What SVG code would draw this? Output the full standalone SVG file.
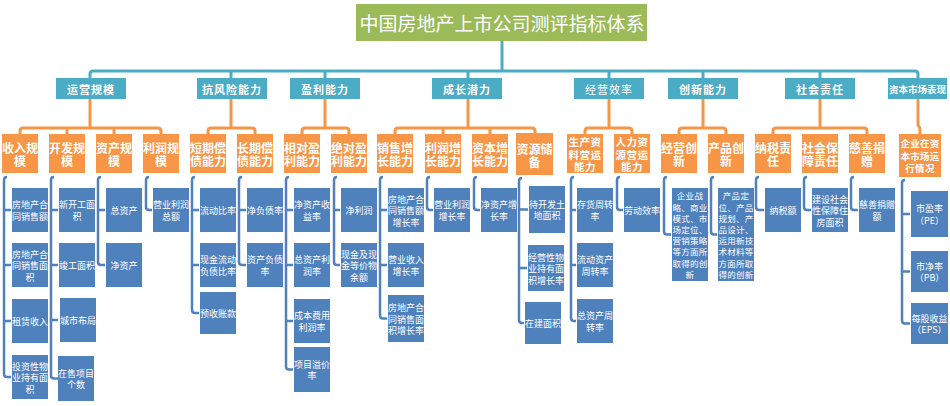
<svg xmlns="http://www.w3.org/2000/svg" width="950" height="406" viewBox="0 0 950 406">
<style>
text{font-family:"Noto Sans CJK SC","Noto Sans",sans-serif;fill:#fff;text-anchor:middle;dominant-baseline:central}
.g{fill:#9BBB59}
.l1{fill:#4BACC6}
.l2{fill:#F79646}
.lf{fill:#4F81BD}
.tt{font-size:19px}
.t1{font-size:11px;font-weight:bold;letter-spacing:1px}
.t2{font-size:12px;font-weight:bold}
.t2s{font-size:10.5px;font-weight:bold;letter-spacing:0.5px}
.t3{font-size:9px}
.t3s{font-size:8.5px;letter-spacing:0.3px}
.cb{fill:none;stroke:#4BACC6;stroke-width:3}
.co{fill:none;stroke:#F79646;stroke-width:3}
.cl{fill:none;stroke:#4F81BD;stroke-width:2.5}
</style>
<rect width="950" height="406" fill="#fff"/>
<g id="connectors">
<path class="cb" d="M502,41V71M90,78V74Q90,71 93,71H915Q918,71 918,74V78M231,71V78M325,71V78M468,71V78M609,71V78M703,71V78M820,71V78"/>
<path class="co" d="M90,99V128M20,134V131Q20,128 23,128H158Q161,128 161,131V134M67,128V134M114,128V134"/>
<path class="co" d="M231,99V128M208,134V131Q208,128 211,128H252Q255,128 255,131V134"/>
<path class="co" d="M325,99V128M302,134V131Q302,128 305,128H346Q349,128 349,131V134"/>
<path class="co" d="M468,99V128M395,134V131Q395,128 398,128H532Q535,128 535,131V133M443,128V134M490,128V134"/>
<path class="co" d="M609,99V128M585,134V131Q585,128 588,128H629Q632,128 632,131V134"/>
<path class="co" d="M703,99V128M679,134V131Q679,128 682,128H723Q726,128 726,131V134"/>
<path class="co" d="M820,99V128M773,134V131Q773,128 776,128H864Q867,128 867,131V134"/>
<path class="co" d="M918,99V125Q920,127 920,130V134"/>
<path class="cl" d="M7,177Q4,177 4,180V374Q4,377 7,377H11M4,210H11M4,265H11M4,321H11"/>
<path class="cl" d="M54,177Q51,177 51,180V375.5Q51,378.5 54,378.5H58M51,210H58M51,265H58M51,320H58"/>
<path class="cl" d="M101,177Q98,177 98,180V262Q98,265 101,265H105M98,210H105"/>
<path class="cl" d="M149,177Q146,177 146,180V207Q146,210 149,210H152"/>
<path class="cl" d="M195,177Q192,177 192,180V310Q192,313 195,313H199M192,210H199M192,265H199"/>
<path class="cl" d="M242,177Q239,177 239,180V262Q239,265 242,265H246M239,210H246"/>
<path class="cl" d="M289,177Q286,177 286,180V366.5Q286,369.5 289,369.5H293M286,210H293M286,265H293M286,321H293"/>
<path class="cl" d="M337,177Q334,177 334,180V262Q334,265 337,265H340M334,210H340"/>
<path class="cl" d="M383,177Q380,177 380,180V315.5Q380,318.5 383,318.5H387M380,210H387M380,265H387"/>
<path class="cl" d="M430,177Q427,177 427,180V207Q427,210 430,210H433"/>
<path class="cl" d="M477,177Q474,177 474,180V207Q474,210 477,210H480"/>
<path class="cl" d="M522,178Q519,178 519,181V320Q519,323 522,323H524M519,209.5H528M519,268H527"/>
<path class="cl" d="M574,177Q571,177 571,180V318Q571,321 574,321H576M571,210H576M571,265H576"/>
<path class="cl" d="M620,177Q617,177 617,180V207Q617,210 620,210H623"/>
<path class="cl" d="M667,177Q664,177 664,180V231.5Q664,234.5 667,234.5H671"/>
<path class="cl" d="M714,177Q711,177 711,180V231.5Q711,234.5 714,234.5H717"/>
<path class="cl" d="M759,177Q756,177 756,180V207Q756,210 759,210H764"/>
<path class="cl" d="M807,177Q804,177 804,180V207Q804,210 807,210H811"/>
<path class="cl" d="M854,177Q851,177 851,180V207Q851,210 854,210H858"/>
<path class="cl" d="M905,180Q902,180 902,183V320.5Q902,323.5 905,323.5H910M902,214H910M902,271.5H910"/>
</g>
<g id="title"><rect class="g" x="356" y="4" width="291" height="37"/><text class="tt" x="502" y="22.5">中国房地产上市公司测评指标体系</text></g>
<g id="l1-yyg"><rect class="l1" x="56" y="78" width="70" height="21"/><text class="t1" x="91" y="88.5">运营规模</text></g>
<g id="l1-kfx"><rect class="l1" x="197" y="78" width="70" height="21"/><text class="t1" x="232" y="88.5">抗风险能力</text></g>
<g id="l1-ylnl"><rect class="l1" x="290" y="78" width="70" height="21"/><text class="t1" x="325" y="88.5">盈利能力</text></g>
<g id="l1-czql"><rect class="l1" x="432" y="78" width="70" height="21"/><text class="t1" x="467" y="88.5">成长潜力</text></g>
<g id="l1-jyxl"><rect class="l1" x="574" y="78" width="70" height="21"/><text class="t1" x="609" y="88.5" style="font-weight:normal">经营效率</text></g>
<g id="l1-cxnl"><rect class="l1" x="668" y="78" width="70" height="21"/><text class="t1" x="703" y="88.5">创新能力</text></g>
<g id="l1-shzr"><rect class="l1" x="785" y="78" width="70" height="21"/><text class="t1" x="820" y="88.5">社会责任</text></g>
<g id="l1-zbsc"><rect class="l1" x="888" y="78" width="59" height="21"/><text class="t1" x="917.5" y="88.5" style="font-size:9.5px;letter-spacing:0">资本市场表现</text></g>

<g id="l2-srgm"><rect class="l2" x="2" y="134" width="36" height="39"/><text class="t2"><tspan x="20" y="147">收入规</tspan><tspan x="20" y="160">模</tspan></text></g>
<g id="l2-kfgm"><rect class="l2" x="49" y="134" width="36" height="39"/><text class="t2"><tspan x="67" y="147">开发规</tspan><tspan x="67" y="160">模</tspan></text></g>
<g id="l2-zcgm"><rect class="l2" x="96" y="134" width="36" height="39"/><text class="t2"><tspan x="114" y="147">资产规</tspan><tspan x="114" y="160">模</tspan></text></g>
<g id="l2-lrgm"><rect class="l2" x="143" y="134" width="36" height="39"/><text class="t2"><tspan x="161" y="147">利润规</tspan><tspan x="161" y="160">模</tspan></text></g>
<g id="l2-dqcz"><rect class="l2" x="190" y="134" width="36" height="39"/><text class="t2"><tspan x="208" y="147">短期偿</tspan><tspan x="208" y="160">债能力</tspan></text></g>
<g id="l2-cqcz"><rect class="l2" x="237" y="134" width="36" height="39"/><text class="t2"><tspan x="255" y="147">长期偿</tspan><tspan x="255" y="160">债能力</tspan></text></g>
<g id="l2-xdyl"><rect class="l2" x="284" y="134" width="36" height="39"/><text class="t2"><tspan x="302" y="147">相对盈</tspan><tspan x="302" y="160">利能力</tspan></text></g>
<g id="l2-jdyl"><rect class="l2" x="331" y="134" width="36" height="39"/><text class="t2"><tspan x="349" y="147">绝对盈</tspan><tspan x="349" y="160">利能力</tspan></text></g>
<g id="l2-xszz"><rect class="l2" x="377" y="134" width="36" height="39"/><text class="t2"><tspan x="395" y="147">销售增</tspan><tspan x="395" y="160">长能力</tspan></text></g>
<g id="l2-lrzz"><rect class="l2" x="425" y="134" width="36" height="39"/><text class="t2"><tspan x="443" y="147">利润增</tspan><tspan x="443" y="160">长能力</tspan></text></g>
<g id="l2-zbzz"><rect class="l2" x="472" y="134" width="36" height="39"/><text class="t2"><tspan x="490" y="147">资本增</tspan><tspan x="490" y="160">长能力</tspan></text></g>
<g id="l2-zycb"><rect class="l2" x="516" y="133" width="37" height="42"/><text class="t2"><tspan x="534.5" y="147.5">资源储</tspan><tspan x="534.5" y="160.5">备</tspan></text></g>
<g id="l2-sczl"><rect class="l2" x="567" y="134" width="36" height="39"/><text class="t2s"><tspan x="585" y="141">生产资</tspan><tspan x="585" y="153.5">料营运</tspan><tspan x="585" y="166">能力</tspan></text></g>
<g id="l2-rlzy"><rect class="l2" x="614" y="134" width="36" height="39"/><text class="t2s"><tspan x="632" y="141">人力资</tspan><tspan x="632" y="153.5">源营运</tspan><tspan x="632" y="166">能力</tspan></text></g>
<g id="l2-jycx"><rect class="l2" x="661" y="134" width="36" height="39"/><text class="t2"><tspan x="679" y="147">经营创</tspan><tspan x="679" y="160">新</tspan></text></g>
<g id="l2-cpcx"><rect class="l2" x="708" y="134" width="36" height="39"/><text class="t2"><tspan x="726" y="147">产品创</tspan><tspan x="726" y="160">新</tspan></text></g>
<g id="l2-nszr"><rect class="l2" x="755" y="134" width="36" height="39"/><text class="t2"><tspan x="773" y="147">纳税责</tspan><tspan x="773" y="160">任</tspan></text></g>
<g id="l2-shbz"><rect class="l2" x="802" y="134" width="36" height="39"/><text class="t2"><tspan x="820" y="147">社会保</tspan><tspan x="820" y="160">障责任</tspan></text></g>
<g id="l2-csjz"><rect class="l2" x="849" y="134" width="36" height="39"/><text class="t2"><tspan x="867" y="147">慈善捐</tspan><tspan x="867" y="160">赠</tspan></text></g>
<g id="l2-zbsc"><rect class="l2" x="899" y="134" width="42" height="43"/><text class="t2" style="font-size:9.5px;letter-spacing:0.3px"><tspan x="920" y="143">企业在资</tspan><tspan x="920" y="155.5">本市场运</tspan><tspan x="920" y="168">行情况</tspan></text></g>

<g id="lf-1"><rect class="lf" x="12" y="188" width="36" height="44"/><text class="t3"><tspan x="30" y="204.25">房地产合</tspan><tspan x="30" y="215.75">同销售额</tspan></text></g>
<g id="lf-2"><rect class="lf" x="12" y="243" width="36" height="44"/><text class="t3"><tspan x="30" y="253.5">房地产合</tspan><tspan x="30" y="265">同销售面</tspan><tspan x="30" y="276.5">积</tspan></text></g>
<g id="lf-3"><rect class="lf" x="12" y="299" width="36" height="44"/><text class="t3" x="30" y="321">租赁收入</text></g>
<g id="lf-4"><rect class="lf" x="12" y="355" width="36" height="44"/><text class="t3"><tspan x="30" y="365.5">投资性物</tspan><tspan x="30" y="377">业持有面</tspan><tspan x="30" y="388.5">积</tspan></text></g>
<g id="lf-5"><rect class="lf" x="59" y="188" width="36" height="44"/><text class="t3"><tspan x="77" y="204.25">新开工面</tspan><tspan x="77" y="215.75">积</tspan></text></g>
<g id="lf-6"><rect class="lf" x="59" y="243" width="36" height="44"/><text class="t3" x="77" y="265">竣工面积</text></g>
<g id="lf-7"><rect class="lf" x="60" y="298" width="36" height="44"/><text class="t3" x="78" y="320">城市布局</text></g>
<g id="lf-8"><rect class="lf" x="58" y="356" width="36" height="45"/><text class="t3"><tspan x="76" y="372.75">在售项目</tspan><tspan x="76" y="384.25">个数</tspan></text></g>
<g id="lf-9"><rect class="lf" x="106" y="188" width="36" height="44"/><text class="t3" x="124" y="210">总资产</text></g>
<g id="lf-10"><rect class="lf" x="106" y="243" width="36" height="44"/><text class="t3" x="124" y="265">净资产</text></g>
<g id="lf-11"><rect class="lf" x="153" y="188" width="36" height="44"/><text class="t3"><tspan x="171" y="204.25">营业利润</tspan><tspan x="171" y="215.75">总额</tspan></text></g>
<g id="lf-12"><rect class="lf" x="200" y="188" width="36" height="44"/><text class="t3" x="218" y="210">流动比率</text></g>
<g id="lf-13"><rect class="lf" x="200" y="243" width="36" height="44"/><text class="t3"><tspan x="218" y="259.25">现金流动</tspan><tspan x="218" y="270.75">负债比率</tspan></text></g>
<g id="lf-14"><rect class="lf" x="200" y="292" width="36" height="42"/><text class="t3" x="218" y="313">预收账款</text></g>
<g id="lf-15"><rect class="lf" x="247" y="188" width="36" height="44"/><text class="t3" x="265" y="210">净负债率</text></g>
<g id="lf-16"><rect class="lf" x="247" y="243" width="36" height="44"/><text class="t3"><tspan x="265" y="259.25">资产负债</tspan><tspan x="265" y="270.75">率</tspan></text></g>
<g id="lf-17"><rect class="lf" x="294" y="188" width="36" height="44"/><text class="t3"><tspan x="312" y="204.25">净资产收</tspan><tspan x="312" y="215.75">益率</tspan></text></g>
<g id="lf-18"><rect class="lf" x="294" y="243" width="36" height="44"/><text class="t3"><tspan x="312" y="259.25">总资产利</tspan><tspan x="312" y="270.75">润率</tspan></text></g>
<g id="lf-19"><rect class="lf" x="294" y="299" width="36" height="44"/><text class="t3"><tspan x="312" y="315.25">成本费用</tspan><tspan x="312" y="326.75">利润率</tspan></text></g>
<g id="lf-20"><rect class="lf" x="294" y="347" width="36" height="45"/><text class="t3"><tspan x="312" y="363.75">项目溢价</tspan><tspan x="312" y="375.25">率</tspan></text></g>
<g id="lf-21"><rect class="lf" x="341" y="188" width="36" height="44"/><text class="t3" x="359" y="210">净利润</text></g>
<g id="lf-22"><rect class="lf" x="341" y="243" width="36" height="44"/><text class="t3"><tspan x="359" y="253.5">现金及现</tspan><tspan x="359" y="265">金等价物</tspan><tspan x="359" y="276.5">余额</tspan></text></g>
<g id="lf-23"><rect class="lf" x="388" y="188" width="36" height="44"/><text class="t3"><tspan x="406" y="198.5">房地产合</tspan><tspan x="406" y="210">同销售额</tspan><tspan x="406" y="221.5">增长率</tspan></text></g>
<g id="lf-24"><rect class="lf" x="388" y="243" width="36" height="44"/><text class="t3"><tspan x="406" y="259.25">营业收入</tspan><tspan x="406" y="270.75">增长率</tspan></text></g>
<g id="lf-25"><rect class="lf" x="388" y="295" width="36" height="47"/><text class="t3"><tspan x="406" y="307">房地产合</tspan><tspan x="406" y="318.5">同销售面</tspan><tspan x="406" y="330">积增长率</tspan></text></g>
<g id="lf-26"><rect class="lf" x="434" y="188" width="36" height="44"/><text class="t3"><tspan x="452" y="204.25">营业利润</tspan><tspan x="452" y="215.75">增长率</tspan></text></g>
<g id="lf-27"><rect class="lf" x="481" y="188" width="36" height="44"/><text class="t3"><tspan x="499" y="204.25">净资产增</tspan><tspan x="499" y="215.75">长率</tspan></text></g>
<g id="lf-28"><rect class="lf" x="529" y="186" width="36" height="47"/><text class="t3"><tspan x="547" y="203.75">待开发土</tspan><tspan x="547" y="215.25">地面积</tspan></text></g>
<g id="lf-29"><rect class="lf" x="528" y="245" width="36" height="46"/><text class="t3"><tspan x="546" y="256.5">经营性物</tspan><tspan x="546" y="268">业持有面</tspan><tspan x="546" y="279.5">积增长率</tspan></text></g>
<g id="lf-30"><rect class="lf" x="525" y="302" width="36" height="42"/><text class="t3" x="543" y="323">在建面积</text></g>
<g id="lf-31"><rect class="lf" x="577" y="188" width="36" height="44"/><text class="t3"><tspan x="595" y="204.25">存货周转</tspan><tspan x="595" y="215.75">率</tspan></text></g>
<g id="lf-32"><rect class="lf" x="577" y="243" width="36" height="44"/><text class="t3"><tspan x="595" y="259.25">流动资产</tspan><tspan x="595" y="270.75">周转率</tspan></text></g>
<g id="lf-33"><rect class="lf" x="577" y="299" width="36" height="44"/><text class="t3"><tspan x="595" y="315.25">总资产周</tspan><tspan x="595" y="326.75">转率</tspan></text></g>
<g id="lf-34"><rect class="lf" x="624" y="188" width="36" height="44"/><text class="t3" x="642" y="210">劳动效率</text></g>
<g id="lf-35"><rect class="lf" x="672" y="188" width="36" height="93"/><text class="t3s"><tspan x="690" y="195.3">企业战</tspan><tspan x="690" y="206.5">略、商业</tspan><tspan x="690" y="217.7">模式、市</tspan><tspan x="690" y="228.9">场定位、</tspan><tspan x="690" y="240.1">营销策略</tspan><tspan x="690" y="251.3">等方面所</tspan><tspan x="690" y="262.5">取得的创</tspan><tspan x="690" y="273.7">新</tspan></text></g>
<g id="lf-36"><rect class="lf" x="718" y="188" width="36" height="93"/><text class="t3s"><tspan x="736" y="195.3">产品定</tspan><tspan x="736" y="206.5">位、产品</tspan><tspan x="736" y="217.7">规划、产</tspan><tspan x="736" y="228.9">品设计、</tspan><tspan x="736" y="240.1">运用新技</tspan><tspan x="736" y="251.3">术材料等</tspan><tspan x="736" y="262.5">方面所取</tspan><tspan x="736" y="273.7">得的创新</tspan></text></g>
<g id="lf-37"><rect class="lf" x="765" y="188" width="36" height="44"/><text class="t3" x="783" y="210">纳税额</text></g>
<g id="lf-38"><rect class="lf" x="812" y="188" width="36" height="44"/><text class="t3"><tspan x="830" y="198.5">建设社会</tspan><tspan x="830" y="210">性保障住</tspan><tspan x="830" y="221.5">房面积</tspan></text></g>
<g id="lf-39"><rect class="lf" x="859" y="188" width="36" height="44"/><text class="t3"><tspan x="877" y="204.25">慈善捐赠</tspan><tspan x="877" y="215.75">额</tspan></text></g>
<g id="lf-40"><rect class="lf" x="911" y="191" width="37" height="46"/><text class="t3"><tspan x="929.5" y="208.25">市盈率</tspan><tspan x="929.5" y="219.75">（PE）</tspan></text></g>
<g id="lf-41"><rect class="lf" x="911" y="251" width="37" height="41"/><text class="t3"><tspan x="929.5" y="265.75">市净率</tspan><tspan x="929.5" y="277.25">（PB）</tspan></text></g>
<g id="lf-42"><rect class="lf" x="911" y="303" width="37" height="41"/><text class="t3"><tspan x="929.5" y="317.75">每股收益</tspan><tspan x="929.5" y="329.25">（EPS）</tspan></text></g>
</svg>
